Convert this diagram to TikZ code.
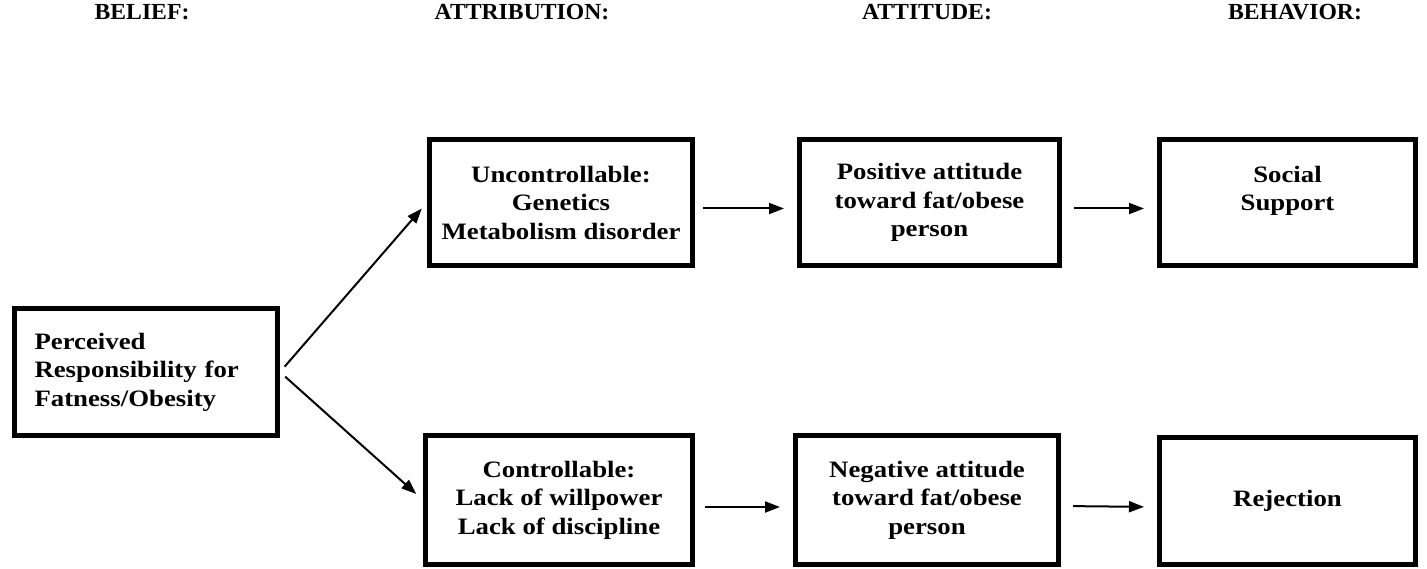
\documentclass[tikz,border=0pt]{standalone}
\usepackage{fontspec}
\setmainfont{Liberation Serif}
\newfontfamily\boxfont{Liberation Serif}[FakeStretch=1.14]
\newfontfamily\headfont{Liberation Serif}[FakeStretch=1.03]
\usetikzlibrary{arrows.meta}
\begin{document}
\begin{tikzpicture}[x=1pt,y=-1pt,
  box/.style={draw, line width=5pt, minimum width=263pt, minimum height=127pt,
    inner sep=0pt, align=center,
    font=\boxfont\bfseries\fontsize{23.5}{28.5}\selectfont},
  head/.style={font=\headfont\bfseries\fontsize{23}{26}\selectfont, inner sep=0pt, anchor=base},
  arr/.style={line width=2pt, -{Triangle[length=15pt,width=11pt]}}]
\useasboundingbox (0,0) rectangle (1427,569);

% headers
\node[head] (h1) at (142,20) {BELIEF:};
\node[head] (h2) at (522,20) {ATTRIBUTION:};
\node[head] (h3) at (927,20) {ATTITUDE:};
\node[head] (h4) at (1295,20) {BEHAVIOR:};

% boxes
\node[box, align=left, text width=223pt, inner xsep=20pt] (belief) at (146,372)
  {Perceived\\Responsibility for\\Fatness/Obesity};
\node[box, minimum height=126pt] (unc) at (561,202.5)
  {Uncontrollable:\\Genetics\\Metabolism disorder};
\node[box, minimum width=260pt, minimum height=126pt] (pos) at (929.5,202.5)
  {Positive attitude\\toward fat/obese\\person};
\node[box, minimum width=256pt, minimum height=126pt] (soc) at (1287.5,202.5)
  {Social\\Support\\\mbox{}};
\node[box, minimum width=267pt, minimum height=129pt] (ctrl) at (559,500)
  {Controllable:\\Lack of willpower\\Lack of discipline};
\node[box, minimum height=129pt] (neg) at (927,500)
  {Negative attitude\\toward fat/obese\\person};
\node[box, minimum width=256pt] (rej) at (1287.5,501)
  {Rejection};

% connectors
\draw[arr, shorten <=7pt, shorten >=8pt] (belief.east) -- (unc.west);
\draw[arr, shorten <=7pt, shorten >=9pt] (belief.east) -- (ctrl.west);
\draw[arr, shorten <=8pt, shorten >=13pt] ([yshift=-6pt]unc.east) -- ([yshift=-6pt]pos.west);
\draw[arr, shorten <=12pt, shorten >=13pt] ([yshift=-6pt]pos.east) -- ([yshift=-6pt]soc.west);
\draw[arr, shorten <=10pt, shorten >=13pt] ([yshift=-7pt]ctrl.east) -- ([yshift=-7pt]neg.west);
\draw[arr, shorten <=12pt, shorten >=13pt] ([yshift=-6pt]neg.east) -- ([yshift=-6pt]rej.west);
\end{tikzpicture}
\end{document}
